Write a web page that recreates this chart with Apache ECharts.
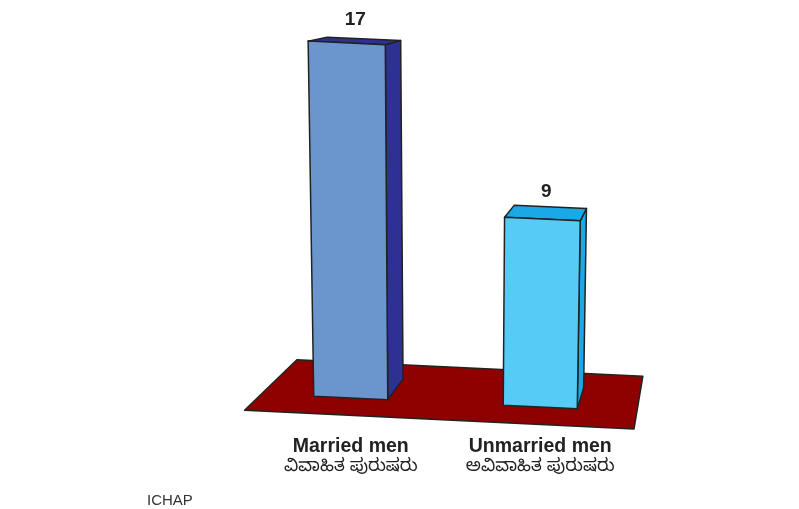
<!DOCTYPE html>
<html>
<head>
<meta charset="utf-8">
<script src="https://cdn.jsdelivr.net/npm/echarts@6/dist/echarts.min.js"></script>
<style>
  html, body { margin: 0; background: #fff; }
  #main { width: 799px; height: 509px; }
</style>
</head>
<body>
<div id="main"></div>
<script>
// data
const categories = ['Married men', 'Unmarried men'];
const categoriesKn = ['ವಿವಾಹಿತ ಪುರುಷರು', 'ಅವಿವಾಹಿತ ಪುರುಷರು'];
const values = [17, 9];

// styles
const frontColors = ['#6b96cd', '#55cbf5'];
const sideColors = ['#2e3192', '#1aa9e6'];
const floorColor = '#8f0000';
const edgeColor = '#222';

// fake 3d view
const VP = [713, -42];   // vanishing point of the depth lines
const SHEAR = 0.048;     // floor tilt
const CONV = 1.2e-4;     // vertical edges converge a little
const DEPTH = 0.047;     // bar depth
const HALF = 37;         // half width of bar front

const chartDom = document.getElementById('main');
const myChart = echarts.init(chartDom);

const toBack = (p, d) => [p[0] + d * (VP[0] - p[0]), p[1] + d * (VP[1] - p[1])];

const poly = (pts, fill) => ({
  type: 'polygon',
  shape: { points: pts },
  style: { fill: fill, stroke: edgeColor, lineWidth: 1.5, lineJoin: 'round' }
});

const renderFloor = (params, api) => {
  const first = api.coord([0, 0]);
  const last = api.coord([categories.length - 1, 0]);
  const band = api.size([1, 0])[0];
  const baseAt = (x) => [x, first[1] + SHEAR * (x - first[0])];
  const bl = baseAt(first[0] - 0.47 * band);
  const br = baseAt(last[0] + 0.51 * band);
  const fl = toBack(bl, -0.038), fr = toBack(br, -0.038);
  const kl = toBack(bl, 0.078), kr = toBack(br, 0.078);
  return poly([fl, fr, kr, kl], floorColor);
};

const renderBar = (params, api) => {
  const i = api.value(0);
  const v = api.value(1);
  const cs = params.coordSys;
  const midX = cs.x + cs.width / 2;
  const x0 = api.coord([0, 0])[0];
  const base = api.coord([i, 0]);
  const top = api.coord([i, v]);
  const h = base[1] - top[1];
  const proj = (x, y, hh) => [x + (x - midX) * hh * CONV, y + SHEAR * (x - x0)];
  const cx = base[0];
  const bl = proj(cx - HALF, base[1], 0);
  const br = proj(cx + HALF, base[1], 0);
  const tl = proj(cx - HALF, top[1], h);
  const tr = proj(cx + HALF, top[1], h);
  const btl = toBack(tl, DEPTH), btr = toBack(tr, DEPTH), bbr = toBack(br, DEPTH);
  const lx = (tl[0] + tr[0] + btl[0] + btr[0]) / 4;
  const ly = (tl[1] + tr[1] + btl[1] + btr[1]) / 4;
  return {
    type: 'group',
    children: [
      poly([br, tr, btr, bbr], sideColors[i]),
      poly([tl, tr, btr, btl], sideColors[i]),
      poly([bl, br, tr, tl], frontColors[i]),
      {
        type: 'text',
        style: {
          text: String(v), x: lx, y: ly - 21,
          align: 'center', verticalAlign: 'middle',
          fontSize: 19, fontWeight: 'bold', fontFamily: 'Liberation Sans', fill: edgeColor
        }
      }
    ]
  };
};

const option = {
  animation: false,
  title: {
    text: 'ICHAP',
    left: 147,
    top: 493,
    padding: 0,
    textStyle: { fontSize: 15, fontWeight: 'normal', color: '#333', fontFamily: 'Liberation Sans' }
  },
  grid: { left: 256, right: 164, top: 22, bottom: 111 },
  xAxis: {
    type: 'category',
    data: categories,
    axisLine: { show: false },
    axisTick: { show: false },
    axisLabel: {
      margin: 37,
      formatter: (val, idx) => '{en|' + val + '}\n{kn|' + categoriesKn[idx] + '}',
      rich: {
        en: { fontSize: 19.5, fontWeight: 'bold', lineHeight: 23, color: edgeColor, fontFamily: 'Liberation Sans' },
        kn: { fontSize: 17.5, lineHeight: 23, color: edgeColor, fontFamily: "'Noto Sans Kannada', 'Noto Sans', sans-serif" }
      }
    }
  },
  yAxis: { type: 'value', min: 0, max: 18, show: false },
  series: [
    { type: 'custom', z: 1, clip: false, data: [[0, 0]], renderItem: renderFloor, silent: true },
    { type: 'custom', z: 2, clip: false, data: values.map((v, i) => [i, v]), renderItem: renderBar }
  ]
};

myChart.setOption(option);
</script>
</body>
</html>
